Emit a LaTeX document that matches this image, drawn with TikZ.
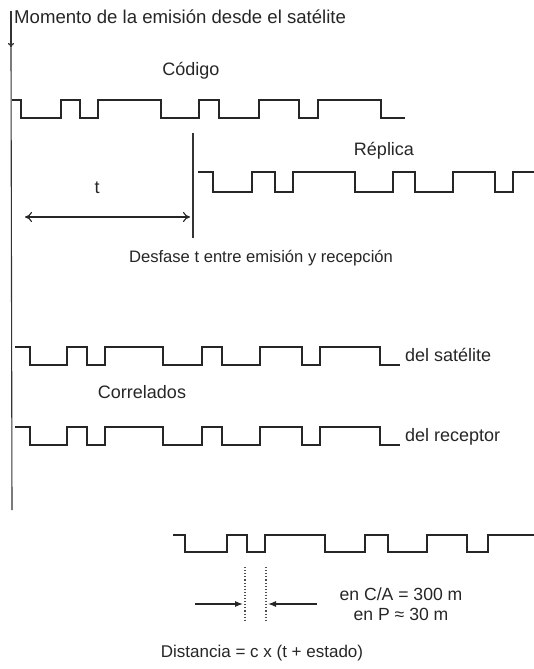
\documentclass[tikz,border=0pt]{standalone}
\usepackage{fontspec}
\setmainfont{Liberation Sans}
\usetikzlibrary{arrows.meta}
\begin{document}
\begin{tikzpicture}[x=1pt,y=-1pt,
  wave/.style={line width=1.6pt,line join=miter,color=black!85},
  axis/.style={line width=1.1pt,color=black!80},
  lbl/.style={inner sep=0pt,anchor=base,font=\fontsize{18}{20}\selectfont,text=black!85},
  lblleft/.style={lbl,anchor=base west},
  open tip/.style={line width=1.1pt,color=black!85,{To[length=7pt,width=10pt]}-{To[length=7pt,width=10pt]}},
  push tip/.style={line width=1.2pt,color=black!85,-{Latex[length=8pt,width=6pt]}},
  dots/.style={line width=1.1pt,dotted,color=black!70}]
\useasboundingbox (0,0) rectangle (534,669);

% time reference: moment of emission
\coordinate (emitTop) at (11,11);
\coordinate (emitTip) at (11,48);
\coordinate (emitEnd) at (12,510);
\draw[axis,-{To[length=5pt,width=6pt]}] (emitTop) -- (emitTip);
\draw[axis] (emitTip) -- (emitEnd);
\node[lblleft,font=\fontsize{18.6}{20}\selectfont] (momento) at (14,24) {Momento de la emisión desde el satélite};

% transmitted code
\node[lbl] (codigo) at (191,75) {Código};
\draw[wave] (12,100) -| (21,118) -| (61,100) -| (80,118) -| (98,100)
  -| (161,118) -| (199,100) -| (219,118) -| (259,100) -| (299,118)
  -| (318,100) -| (381,118) -- (405,118);

% received replica
\node[lbl] (replica) at (384,155) {Réplica};
\coordinate (recvTop) at (193,133);
\coordinate (recvBot) at (193,238);
\draw[axis] (recvTop) -- (recvBot);
\draw[wave] (198,172) -| (213,192) -| (252,172) -| (275,192) -| (293,172)
  -| (355,192) -| (393,172) -| (415,192) -| (453,172) -| (495,192)
  -| (513,172) -- (534,172);

% delay t
\node[lbl] (tlabel) at (97,193) {t};
\coordinate (tL) at (25,217);
\coordinate (tR) at (190,217);
\draw[open tip] (tL) -- (tR);
\node[lbl,font=\fontsize{16.6}{20}\selectfont] (desfase) at (261,262) {Desfase t entre emisión y recepción};

% correlated codes
\draw[wave] (15,347) -| (30,365) -| (67,347) -| (87,365) -| (105,347)
  -| (163,365) -| (202,347) -| (222,365) -| (260,347) -| (302,365)
  -| (320,347) -| (380,365) -- (400,365);
\node[lblleft] (delsat) at (405,361) {del satélite};
\node[lbl] (correlados) at (142,398) {Correlados};
\draw[wave] (15,427) -| (30,445) -| (67,427) -| (87,445) -| (105,427)
  -| (163,445) -| (202,427) -| (222,445) -| (260,427) -| (302,445)
  -| (320,427) -| (380,445) -- (400,445);
\node[lblleft] (delrec) at (405,441) {del receptor};

% resolution of one chip
\draw[wave] (173,535) -| (185,552) -| (227,535) -| (247,552) -| (265,535)
  -| (325,552) -| (365,535) -| (388,552) -| (427,535) -| (467,552)
  -| (488,535) -- (534,535);
\coordinate (d1t) at (245,567);
\coordinate (d1b) at (245,622);
\coordinate (d2t) at (266,567);
\coordinate (d2b) at (266,622);
\draw[dots] (d1t) -- (d1b);
\draw[dots] (d2t) -- (d2b);
\coordinate (aL) at (195,604);
\coordinate (aLe) at (243,604);
\coordinate (aR) at (317,604);
\coordinate (aRe) at (268,604);
\draw[push tip] (aL) -- (aLe);
\draw[push tip] (aR) -- (aRe);
\node[lbl,font=\fontsize{17.6}{20}\selectfont] (enca) at (401,600) {en C/A = 300 m};
\node[lbl,font=\fontsize{17.6}{20}\selectfont] (enp) at (401,620) {en P ≈ 30 m};

\node[lbl,font=\fontsize{17}{20}\selectfont] (distancia) at (262,657) {Distancia = c x (t + estado)};
\end{tikzpicture}
\end{document}
